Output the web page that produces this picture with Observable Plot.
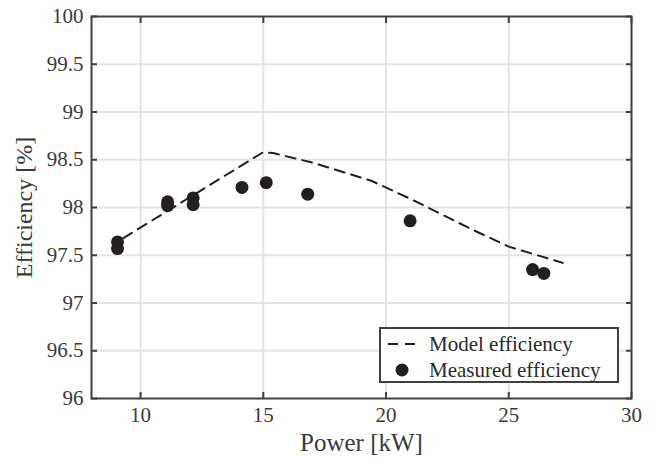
<!DOCTYPE html>
<html>
<head>
<meta charset="utf-8">
<script src="https://cdn.jsdelivr.net/npm/d3@7"></script>
<script src="https://cdn.jsdelivr.net/npm/@observablehq/plot@0.6"></script>
<style>
  body { margin: 0; background: #fff; }
  #wrap { position: relative; width: 654px; height: 461px; font-family: "Liberation Serif", serif; color: #2a2a2a; }
  #legend { position: absolute; left: 379px; top: 327px; width: 236px; height: 52px; border: 2px solid #404040; background: #fff; }
  .row { position: absolute; left: 0; height: 26px; display: flex; align-items: center; font-size: 21px; white-space: nowrap; }
  .row svg { width: 48px; height: 26px; flex: none; }
</style>
</head>
<body>
<div id="wrap"></div>
<script>
// ---- data ----
const measuredPower = [9.06, 9.06, 11.1, 11.1, 12.14, 12.14, 14.13, 15.12, 16.81, 20.98, 25.97, 26.43];
const measuredEff   = [97.64, 97.57, 98.06, 98.02, 98.10, 98.03, 98.21, 98.26, 98.14, 97.86, 97.35, 97.31];
const modelPower = [9.3, 15.0, 15.4, 17.0, 19.4, 21.0, 23.5, 25.0, 27.2];
const modelEff   = [97.68, 98.58, 98.57, 98.47, 98.28, 98.09, 97.77, 97.59, 97.42];
const xTicks = [10, 15, 20, 25, 30];
const yTicks = [96, 96.5, 97, 97.5, 98, 98.5, 99, 99.5, 100];
const xGrid = [10, 15, 20, 25];
const yGrid = [96.5, 97, 97.5, 98, 98.5, 99, 99.5];
const xLabel = "Power [kW]";
const yLabel = "Efficiency [%]";
const legendLabels = ["Model efficiency", "Measured efficiency"];

const measured = measuredPower.map((p, i) => ({p, e: measuredEff[i]}));
const model = modelPower.map((p, i) => ({p, e: modelEff[i]}));

const ink = "#231f20";
const frameColor = "#404040";
const gridColor = "#e4e4e4";
const serif = "Liberation Serif";

const chart = Plot.plot({
  width: 654,
  height: 461,
  marginLeft: 91,
  marginRight: 23,
  marginTop: 16,
  marginBottom: 63,
  x: { domain: [8, 30] },
  y: { domain: [96, 100] },
  marks: [
    Plot.gridX(xGrid, { stroke: gridColor, strokeOpacity: 1, strokeWidth: 2 }),
    Plot.gridY(yGrid, { stroke: gridColor, strokeOpacity: 1, strokeWidth: 2 }),
    // tick labels
    Plot.axisX({ anchor: "bottom", ticks: xTicks, tickSize: 0, tickPadding: 9, fontSize: 21, label: null, fill: "#3a3a3a" }),
    Plot.axisY({ anchor: "left", ticks: yTicks, tickSize: 0, tickPadding: 8, fontSize: 21, label: null, fill: "#3a3a3a", tickFormat: d => String(d) }),
    // inward ticks on all four sides
    Plot.axisX({ anchor: "bottom", ticks: xTicks, tickSize: -6, tickFormat: () => "", label: null, stroke: frameColor, strokeWidth: 2 }),
    Plot.axisX({ anchor: "top", ticks: xTicks, tickSize: -6, tickFormat: () => "", label: null, stroke: frameColor, strokeWidth: 2 }),
    Plot.axisY({ anchor: "left", ticks: yTicks, tickSize: -6, tickFormat: () => "", label: null, stroke: frameColor, strokeWidth: 2 }),
    Plot.axisY({ anchor: "right", ticks: yTicks, tickSize: -6, tickFormat: () => "", label: null, stroke: frameColor, strokeWidth: 2 }),
    // axis titles
    Plot.axisX({ anchor: "bottom", ticks: [], tickSize: 0, label: xLabel, labelAnchor: "center", labelArrow: "none", labelOffset: 52, fontSize: 25, fill: "#3a3a3a" }),
    Plot.axisY({ anchor: "left", ticks: [], tickSize: 0, label: yLabel, labelAnchor: "center", labelArrow: "none", labelOffset: 77, fontSize: 24, fill: "#3a3a3a" }),
    Plot.line(model, { x: "p", y: "e", stroke: ink, strokeWidth: 2, strokeDasharray: "10,7" }),
    Plot.dot(measured, { x: "p", y: "e", r: 6.5, fill: ink, stroke: "none" }),
    Plot.frame({ stroke: frameColor, strokeWidth: 2 })
  ]
});

const wrap = document.getElementById("wrap");
wrap.appendChild(chart);
chart.setAttribute("font-family", serif);
chart.querySelectorAll("text").forEach(t => {
  t.setAttribute("font-family", serif);
  t.style.fontFamily = `'${serif}', serif`;
});

// legend overlay
const legend = document.createElement("div");
legend.id = "legend";
legend.innerHTML = `
  <div class="row" style="top:2px"><svg><line x1="7" x2="40" y1="13" y2="13" stroke="${ink}" stroke-width="2" stroke-dasharray="10,7"/></svg><span>${legendLabels[0]}</span></div>
  <div class="row" style="top:28px"><svg><circle cx="21" cy="13" r="6.5" fill="${ink}"/></svg><span>${legendLabels[1]}</span></div>`;
wrap.appendChild(legend);
</script>
</body>
</html>
